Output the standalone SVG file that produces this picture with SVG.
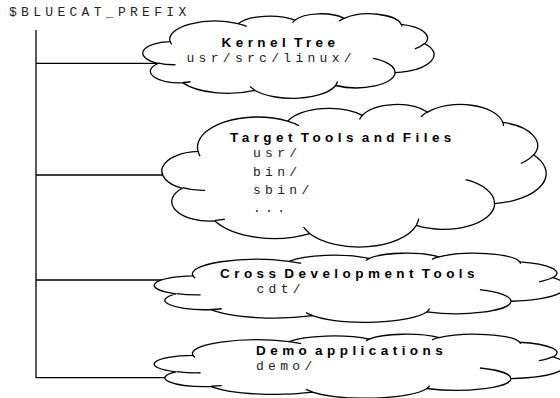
<svg xmlns="http://www.w3.org/2000/svg" xmlns:xlink="http://www.w3.org/1999/xlink" width="560" height="398" viewBox="0 0 560 398">
  <style>
    .cloud { fill: #fff; stroke: #000; stroke-width: 1.3; vector-effect: non-scaling-stroke; }
    .fold { fill: none; stroke: #000; stroke-width: 1.3; vector-effect: non-scaling-stroke; }
    .link { stroke: #000; stroke-width: 1.3; fill: none; }
    .title { font-family: "Liberation Sans", Arial, sans-serif; font-weight: bold; font-size: 13.5px; letter-spacing: 4.45px; word-spacing: -4.45px; fill: #000; }
    .dir { font-family: "Liberation Mono", "Courier New", monospace; font-size: 13px; letter-spacing: 4.3px; fill: #222; }
  </style>
  <defs>
    <!-- cloud outline in a 43200 x 43200 box -->
    <path id="cloud-outline" class="cloud" d="M3900,14370 A6753,9190 0 0 1 14005,5202 A5333,7267 0 0 1 22456,3431 A4365,5945 0 0 1 29833,2479 A4857,6595 0 0 1 38318,5574 A5333,7273 0 0 1 41818,15457 A6775,9220 0 0 1 37403,30199 A5785,7867 0 0 1 28555,36809 A6752,9215 0 0 1 16480,39262 A7720,10543 0 0 1 5805,35470 A4360,5918 0 0 1 2112,25550 A4345,5945 0 0 1 3900,14370 Z"/>
    <!-- inner fold strokes at the lobe joints -->
    <path id="cloud-folds" class="fold" d="M4693,26177 A4345,5945 0 0 1 2160,25380 M6928,34899 A4360,5918 0 0 1 5820,35281 M16478,39090 A6752,9215 0 0 1 15809,37348 M28827,34751 A6752,9215 0 0 1 28560,36660 M34129,22954 A5785,7867 0 0 1 37381,30090 M41798,15354 A5333,7273 0 0 1 40349,18031 M38324,5426 A4857,6595 0 0 1 38401,6690 M29078,3952 A4857,6595 0 0 1 29820,2340 M22141,4720 A4365,5945 0 0 1 22500,3331 M14000,5192 A6753,9190 0 0 1 15299,6540 M4127,15789 A6753,9190 0 0 1 3900,14371"/>
  </defs>

  <text class="dir" x="9" y="15.5">$BLUECAT_PREFIX</text>

  <g id="connectors">
    <path class="link" d="M36,30 V378"/>
    <path class="link" d="M36,63.3 H158"/>
    <path class="link" d="M36,175 H165"/>
    <path class="link" d="M36,280 H166"/>
    <path class="link" d="M36,377.7 H167"/>
  </g>

  <g id="kernel-tree">
    <g transform="translate(144 13.5) scale(0.006713 0.001956)">
      <use xlink:href="#cloud-outline"/>
      <use xlink:href="#cloud-folds"/>
    </g>
    <text class="title" x="221.5" y="46.7">Kernel Tree</text>
    <text class="dir" x="186.5" y="61.5">usr/src/linux/</text>
  </g>

  <g id="target-tools">
    <g transform="translate(163.5 104) scale(0.008854 0.003299)">
      <use xlink:href="#cloud-outline"/>
      <use xlink:href="#cloud-folds"/>
    </g>
    <text class="title" x="230" y="141.7">Target Tools and Files</text>
    <text class="dir" x="253" y="157">usr/</text>
    <text class="dir" x="253" y="175.5">bin/</text>
    <text class="dir" x="253" y="194">sbin/</text>
    <text class="dir" x="253" y="212">...</text>
  </g>

  <g id="cross-development">
    <g transform="translate(156 253) scale(0.009491 0.001597)">
      <use xlink:href="#cloud-outline"/>
      <use xlink:href="#cloud-folds"/>
    </g>
    <text class="title" x="220" y="278.3">Cross Development Tools</text>
    <text class="dir" x="256.5" y="293.3">cdt/</text>
  </g>

  <g id="demo-applications">
    <g transform="translate(156 334) scale(0.009491 0.001481)">
      <use xlink:href="#cloud-outline"/>
      <use xlink:href="#cloud-folds"/>
    </g>
    <text class="title" x="256" y="355">Demo applications</text>
    <text class="dir" x="256" y="370">demo/</text>
  </g>
</svg>
